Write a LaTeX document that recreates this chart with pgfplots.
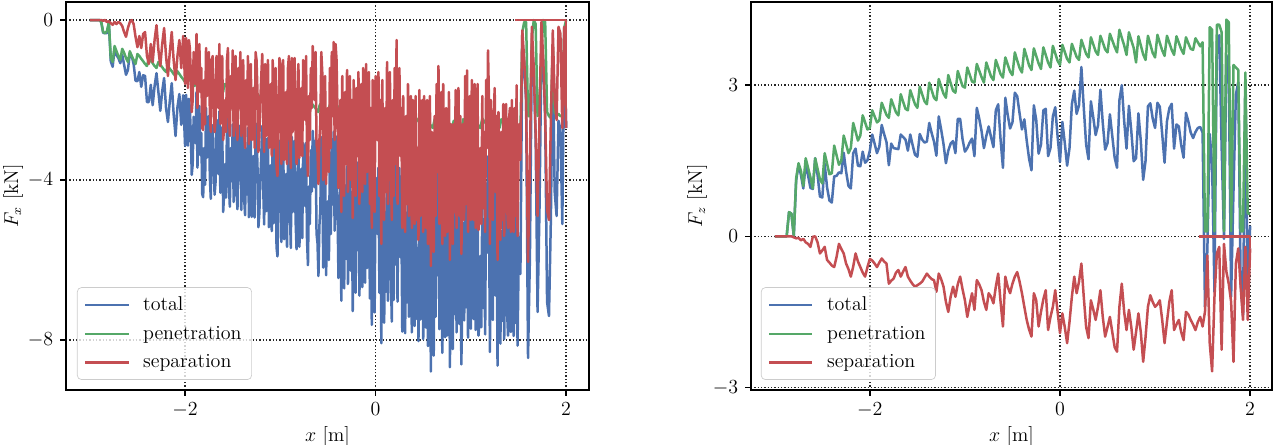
\documentclass[border=0pt,12pt]{standalone}
\usepackage{pgfplots}
\usepackage{pgfplotstable}
\pgfplotsset{compat=1.18}
\definecolor{cblue}{HTML}{4C72B0}
\definecolor{cgreen}{HTML}{55A868}
\definecolor{cred}{HTML}{C44E52}

% left panel: x, total, penetration, separation (F_x)
\pgfplotstableread{
x t g s
-3.00 0 0 0
-2.98 0 0 0
-2.96 0 0 0
-2.94 0 0 0
-2.92 0 0 0
-2.90 0 0 0
-2.88 -0.05 -0.05 0
-2.86 -0.32 -0.30 -0.02
-2.84 -0.33 -0.33 0
-2.82 -0.33 -0.28 -0.05
-2.80 -0.08 -0.05 -0.03
-2.78 -1.03 -0.95 -0.08
-2.76 -1.17 -1.05 -0.12
-2.74 -0.70 -0.65 -0.05
-2.72 -0.88 -0.78 -0.10
-2.70 -0.95 -0.90 -0.05
-2.68 -1.08 -1.00 -0.08
-2.66 -0.87 -0.72 -0.15
-2.64 -1.12 -0.82 -0.30
-2.62 -1.37 -0.95 -0.42
-2.60 -1.25 -1.05 -0.20
-2.58 -0.83 -0.78 -0.05
-2.56 -0.90 -0.90 0
-2.54 -1.10 -1.00 -0.10
-2.52 -1.52 -1.10 -0.42
-2.50 -1.53 -0.85 -0.68
-2.48 -1.30 -0.90 -0.40
-2.46 -1.67 -0.97 -0.70
-2.44 -1.38 -1.03 -0.35
-2.42 -1.40 -1.10 -0.30
-2.40 -2.05 -1.15 -0.90
-2.38 -2.05 -0.95 -1.10
-2.36 -1.62 -1.02 -0.60
-2.34 -2.13 -1.08 -1.05
-2.32 -1.65 -1.15 -0.50
-2.30 -1.33 -1.20 -0.13
-2.28 -1.80 -1.05 -0.75
-2.26 -2.27 -1.12 -1.15
-2.24 -1.78 -1.18 -0.60
-2.22 -1.45 -1.25 -0.20
-2.20 -2.20 -1.30 -0.90
-2.18 -2.55 -1.15 -1.40
-2.16 -2.02 -1.22 -0.80
-2.14 -1.58 -1.28 -0.30
-2.12 -2.35 -1.35 -1.00
-2.10 -2.90 -1.40 -1.50
-2.08 -2.18 -1.28 -0.90
-2.06 -1.85 -1.35 -0.50
-2.04 -2.62 -1.42 -1.20
-2.02 -1.88 -1.48 -0.40
-2.00 -3.15 -1.55 -1.60
-1.99 -1.87 -1.42 -0.45
-1.98 -2.20 -1.40 -0.80
-1.97 -3.14 -1.44 -1.70
-1.96 -1.97 -1.47 -0.50
-1.95 -2.20 -1.50 -0.70
-1.94 -2.83 -1.53 -1.30
-1.93 -3.87 -1.57 -2.30
-1.92 -3.60 -1.60 -2.00
-1.91 -2.42 -1.62 -0.80
-1.90 -2.75 -1.65 -1.10
-1.89 -3.08 -1.48 -1.60
-1.88 -1.80 -1.45 -0.35
-1.87 -3.69 -1.49 -2.20
-1.86 -2.52 -1.52 -1.00
-1.85 -2.15 -1.55 -0.60
-1.84 -3.38 -1.58 -1.80
-1.83 -2.82 -1.62 -1.20
-1.82 -4.35 -1.65 -2.70
-1.81 -4.43 -1.68 -2.75
-1.80 -3.20 -1.70 -1.50
-1.79 -4.12 -1.52 -2.60
-1.78 -2.20 -1.50 -0.70
-1.77 -3.44 -1.54 -1.90
-1.76 -3.17 -1.57 -1.60
-1.75 -2.40 -1.60 -0.80
-1.74 -3.93 -1.63 -2.30
-1.73 -4.47 -1.67 -2.80
-1.72 -2.70 -1.70 -1.00
-1.71 -2.63 -1.73 -0.90
-1.70 -3.65 -1.75 -1.90
-1.69 -4.37 -1.57 -2.80
-1.68 -4.05 -1.55 -2.50
-1.67 -2.49 -1.59 -0.90
-1.66 -2.82 -1.62 -1.20
-1.65 -3.85 -1.65 -2.20
-1.64 -2.28 -1.68 -0.60
-1.63 -4.32 -1.72 -2.60
-1.62 -3.45 -1.75 -1.70
-1.61 -2.68 -1.78 -0.90
-1.60 -4.80 -1.80 -3.00
-1.59 -4.32 -1.62 -2.70
-1.58 -3.60 -1.60 -2.00
-1.57 -4.44 -1.64 -2.80
-1.56 -2.67 -1.67 -1.00
-1.55 -2.40 -1.70 -0.70
-1.54 -4.13 -1.73 -2.40
-1.53 -4.67 -1.77 -2.90
-1.52 -3.20 -1.80 -1.40
-1.51 -4.03 -1.83 -2.20
-1.50 -2.61 -1.85 -0.76
-1.49 -4.55 -1.65 -2.90
-1.48 -3.22 -1.62 -1.60
-1.47 -2.56 -1.66 -0.90
-1.46 -4.30 -1.70 -2.60
-1.45 -4.73 -1.73 -3.00
-1.44 -2.97 -1.77 -1.20
-1.43 -4.00 -1.80 -2.20
-1.42 -2.63 -1.83 -0.80
-1.41 -4.75 -1.85 -2.90
-1.40 -3.88 -1.88 -2.00
-1.39 -2.68 -1.68 -1.00
-1.38 -4.45 -1.65 -2.80
-1.37 -4.88 -1.68 -3.20
-1.36 -3.22 -1.72 -1.50
-1.35 -4.36 -1.76 -2.60
-1.34 -2.70 -1.80 -0.90
-1.33 -4.93 -1.83 -3.10
-1.32 -4.06 -1.86 -2.20
-1.31 -2.99 -1.89 -1.10
-1.30 -4.92 -1.92 -3.00
-1.29 -4.03 -1.73 -2.30
-1.28 -3.40 -1.70 -1.70
-1.27 -4.94 -1.74 -3.20
-1.26 -2.58 -1.78 -0.80
-1.25 -2.81 -1.81 -1.00
-1.24 -3.65 -1.85 -1.80
-1.23 -5.18 -1.88 -3.30
-1.22 -4.82 -1.92 -2.90
-1.21 -3.95 -1.95 -2.00
-1.20 -3.38 -1.98 -1.40
-1.19 -2.65 -1.80 -0.85
-1.18 -4.18 -1.78 -2.40
-1.17 -5.11 -1.81 -3.30
-1.16 -2.95 -1.85 -1.10
-1.15 -4.78 -1.88 -2.90
-1.14 -3.92 -1.92 -2.00
-1.13 -2.95 -1.95 -1.00
-1.12 -5.18 -1.98 -3.20
-1.11 -4.30 -2.00 -2.30
-1.10 -3.63 -2.03 -1.60
-1.09 -5.28 -1.88 -3.40
-1.08 -2.85 -1.85 -1.00
-1.07 -5.08 -1.88 -3.20
-1.06 -4.12 -1.92 -2.20
-1.05 -3.15 -1.95 -1.20
-1.04 -5.68 -1.98 -3.70
-1.03 -5.91 -2.01 -3.90
-1.02 -4.35 -2.05 -2.30
-1.01 -3.02 -2.07 -0.95
-1.00 -3.20 -2.10 -1.10
-0.99 -5.55 -1.95 -3.60
-0.98 -4.32 -1.92 -2.40
-0.97 -2.95 -1.95 -1.00
-0.96 -5.48 -1.98 -3.50
-0.95 -4.91 -2.01 -2.90
-0.94 -3.85 -2.05 -1.80
-0.93 -5.67 -2.07 -3.60
-0.92 -3.30 -2.10 -1.20
-0.91 -3.02 -2.12 -0.90
-0.90 -4.75 -2.15 -2.60
-0.89 -5.70 -2.00 -3.70
-0.88 -2.92 -1.97 -0.95
-0.87 -4.80 -2.00 -2.80
-0.86 -3.54 -2.04 -1.50
-0.85 -3.02 -2.07 -0.95
-0.84 -5.00 -2.10 -2.90
-0.83 -5.73 -2.13 -3.60
-0.82 -4.16 -2.16 -2.00
-0.81 -3.29 -2.19 -1.10
-0.80 -5.67 -2.22 -3.45
-0.79 -4.85 -2.05 -2.80
-0.78 -3.72 -2.02 -1.70
-0.77 -5.45 -2.05 -3.40
-0.76 -3.08 -2.08 -1.00
-0.75 -3.71 -2.11 -1.60
-0.74 -4.65 -2.15 -2.50
-0.73 -3.07 -2.17 -0.90
-0.72 -5.50 -2.20 -3.30
-0.71 -6.13 -2.23 -3.90
-0.70 -4.16 -2.26 -1.90
-0.69 -5.10 -2.10 -3.00
-0.68 -3.26 -2.06 -1.20
-0.67 -4.29 -2.09 -2.20
-0.66 -2.77 -2.12 -0.65
-0.65 -3.35 -2.15 -1.20
-0.64 -4.18 -2.18 -2.00
-0.63 -3.01 -2.21 -0.80
-0.62 -5.34 -2.24 -3.10
-0.61 -5.57 -2.27 -3.30
-0.60 -6.40 -2.30 -4.10
-0.59 -5.15 -2.15 -3.00
-0.58 -4.70 -2.10 -2.60
-0.57 -2.93 -2.13 -0.80
-0.56 -3.46 -2.16 -1.30
-0.55 -6.19 -2.19 -4.00
-0.54 -5.02 -2.22 -2.80
-0.53 -3.65 -2.25 -1.40
-0.52 -6.38 -2.28 -4.10
-0.51 -5.31 -2.31 -3.00
-0.50 -4.53 -2.33 -2.20
-0.49 -6.00 -2.20 -3.80
-0.48 -3.32 -2.12 -1.20
-0.47 -5.35 -2.15 -3.20
-0.46 -2.98 -2.18 -0.80
-0.45 -4.61 -2.21 -2.40
-0.44 -2.79 -2.24 -0.55
-0.43 -5.27 -2.27 -3.00
-0.42 -2.90 -2.30 -0.60
-0.41 -3.33 -2.33 -1.00
-0.40 -4.65 -2.35 -2.30
-0.39 -6.45 -2.25 -4.20
-0.38 -5.75 -2.15 -3.60
-0.37 -4.19 -2.19 -2.00
-0.36 -7.02 -2.22 -4.80
-0.35 -3.65 -2.25 -1.40
-0.34 -5.48 -2.28 -3.20
-0.33 -6.71 -2.31 -4.40
-0.32 -4.14 -2.34 -1.80
-0.31 -5.97 -2.37 -3.60
-0.30 -3.65 -2.40 -1.25
-0.29 -6.60 -2.30 -4.30
-0.28 -4.90 -2.20 -2.70
-0.27 -3.64 -2.24 -1.40
-0.26 -6.27 -2.27 -4.00
-0.25 -4.30 -2.30 -2.00
-0.24 -7.28 -2.33 -4.95
-0.23 -3.86 -2.36 -1.50
-0.22 -5.89 -2.39 -3.50
-0.21 -6.82 -2.42 -4.40
-0.20 -4.15 -2.45 -1.70
-0.19 -5.75 -2.35 -3.40
-0.18 -3.55 -2.25 -1.30
-0.17 -6.89 -2.29 -4.60
-0.16 -5.32 -2.32 -3.00
-0.15 -3.95 -2.35 -1.60
-0.14 -6.68 -2.38 -4.30
-0.13 -3.61 -2.41 -1.20
-0.12 -4.84 -2.44 -2.40
-0.11 -6.57 -2.47 -4.10
-0.10 -3.60 -2.50 -1.10
-0.09 -6.20 -2.40 -3.80
-0.08 -4.90 -2.30 -2.60
-0.07 -3.63 -2.33 -1.30
-0.06 -6.96 -2.36 -4.60
-0.05 -4.59 -2.39 -2.20
-0.04 -7.62 -2.42 -5.20
-0.03 -3.95 -2.45 -1.50
-0.02 -5.78 -2.48 -3.30
-0.01 -7.31 -2.51 -4.80
0.00 -3.94 -2.54 -1.40
0.01 -4.05 -2.45 -1.60
0.02 -5.35 -2.35 -3.00
0.03 -3.69 -2.39 -1.30
0.04 -6.82 -2.42 -4.40
0.05 -4.45 -2.45 -2.00
0.06 -8.08 -2.48 -5.60
0.07 -4.01 -2.51 -1.50
0.08 -6.44 -2.54 -3.90
0.09 -7.57 -2.57 -5.00
0.10 -4.80 -2.60 -2.20
0.11 -6.79 -2.49 -4.30
0.12 -3.43 -2.38 -1.05
0.13 -7.02 -2.42 -4.60
0.14 -4.95 -2.45 -2.50
0.15 -3.78 -2.48 -1.30
0.16 -6.31 -2.51 -3.80
0.17 -7.54 -2.54 -5.00
0.18 -4.57 -2.57 -2.00
0.19 -7.00 -2.60 -4.40
0.20 -3.82 -2.62 -1.20
0.21 -6.11 -2.51 -3.60
0.22 -2.90 -2.40 -0.50
0.23 -7.04 -2.44 -4.60
0.24 -4.07 -2.47 -1.60
0.25 -3.70 -2.50 -1.20
0.26 -5.93 -2.53 -3.40
0.27 -4.76 -2.56 -2.20
0.28 -7.79 -2.59 -5.20
0.29 -4.52 -2.62 -1.90
0.30 -6.44 -2.64 -3.80
0.31 -7.83 -2.53 -5.30
0.32 -4.82 -2.42 -2.40
0.33 -7.06 -2.46 -4.60
0.34 -4.09 -2.49 -1.60
0.35 -7.42 -2.52 -4.90
0.36 -5.45 -2.55 -2.90
0.37 -4.48 -2.58 -1.90
0.38 -7.81 -2.61 -5.20
0.39 -4.64 -2.64 -2.00
0.40 -6.66 -2.66 -4.00
0.41 -7.65 -2.55 -5.10
0.42 -4.34 -2.44 -1.90
0.43 -7.47 -2.47 -5.00
0.44 -5.70 -2.50 -3.20
0.45 -8.03 -2.53 -5.50
0.46 -4.31 -2.56 -1.75
0.47 -7.49 -2.59 -4.90
0.48 -6.22 -2.62 -3.60
0.49 -4.65 -2.65 -2.00
0.50 -7.98 -2.68 -5.30
0.51 -4.47 -2.57 -1.90
0.52 -6.05 -2.45 -3.60
0.53 -7.69 -2.49 -5.20
0.54 -4.52 -2.52 -2.00
0.55 -8.15 -2.55 -5.60
0.56 -7.08 -2.58 -4.50
0.57 -4.51 -2.61 -1.90
0.58 -8.79 -2.64 -6.15
0.59 -5.47 -2.67 -2.80
0.60 -6.90 -2.70 -4.20
0.61 -8.39 -2.59 -5.80
0.62 -4.88 -2.48 -2.40
0.63 -7.42 -2.52 -4.90
0.64 -4.15 -2.55 -1.60
0.65 -6.38 -2.58 -3.80
0.66 -3.75 -2.60 -1.15
0.67 -7.73 -2.63 -5.10
0.68 -5.96 -2.66 -3.30
0.69 -4.49 -2.69 -1.80
0.70 -8.32 -2.72 -5.60
0.71 -4.21 -2.61 -1.60
0.72 -6.50 -2.50 -4.00
0.73 -7.93 -2.53 -5.40
0.74 -4.76 -2.56 -2.20
0.75 -7.89 -2.59 -5.30
0.76 -6.42 -2.62 -3.80
0.77 -4.45 -2.65 -1.80
0.78 -8.68 -2.68 -6.00
0.79 -5.31 -2.71 -2.60
0.80 -7.24 -2.74 -4.50
0.81 -8.23 -2.63 -5.60
0.82 -5.12 -2.52 -2.60
0.83 -7.35 -2.55 -4.80
0.84 -4.33 -2.58 -1.75
0.85 -7.81 -2.61 -5.20
0.86 -5.84 -2.64 -3.20
0.87 -4.37 -2.67 -1.70
0.88 -7.60 -2.70 -4.90
0.89 -5.13 -2.73 -2.40
0.90 -8.61 -2.76 -5.85
0.91 -7.02 -2.62 -4.40
0.92 -5.08 -2.48 -2.60
0.93 -7.51 -2.51 -5.00
0.94 -3.95 -2.55 -1.40
0.95 -7.18 -2.58 -4.60
0.96 -3.87 -2.61 -1.26
0.97 -7.94 -2.64 -5.30
0.98 -6.17 -2.67 -3.50
0.99 -4.60 -2.70 -1.90
1.00 -7.72 -2.72 -5.00
1.01 -4.08 -2.58 -1.50
1.02 -5.45 -2.45 -3.00
1.03 -7.48 -2.48 -5.00
1.04 -4.12 -2.52 -1.60
1.05 -7.75 -2.55 -5.20
1.06 -6.38 -2.58 -3.80
1.07 -4.21 -2.61 -1.60
1.08 -7.89 -2.64 -5.25
1.09 -7.57 -2.67 -4.90
1.10 -5.90 -2.70 -3.20
1.11 -7.68 -2.58 -5.10
1.12 -4.36 -2.46 -1.90
1.13 -7.20 -2.50 -4.70
1.14 -5.33 -2.53 -2.80
1.15 -7.86 -2.56 -5.30
1.16 -4.09 -2.59 -1.50
1.17 -5.82 -2.62 -3.20
1.18 -3.41 -2.65 -0.76
1.19 -4.68 -2.68 -2.00
1.20 -8.30 -2.70 -5.60
1.21 -4.58 -2.58 -2.00
1.22 -6.36 -2.46 -3.90
1.23 -7.50 -2.50 -5.00
1.24 -4.93 -2.53 -2.40
1.25 -4.26 -2.56 -1.70
1.26 -6.89 -2.59 -4.30
1.27 -5.02 -2.62 -2.40
1.28 -8.64 -2.64 -6.00
1.29 -4.97 -2.67 -2.30
1.30 -6.70 -2.70 -4.00
1.31 -8.09 -2.59 -5.50
1.32 -5.28 -2.48 -2.80
1.33 -7.52 -2.52 -5.00
1.34 -4.65 -2.55 -2.10
1.35 -7.98 -2.58 -5.40
1.36 -6.10 -2.60 -3.50
1.37 -4.73 -2.63 -2.10
1.38 -7.26 -2.66 -4.60
1.39 -7.89 -2.69 -5.20
1.40 -5.22 -2.72 -2.50
1.41 -4.81 -2.61 -2.20
1.42 -7.80 -2.50 -5.30
1.43 -4.54 -2.54 -2.00
1.44 -6.57 -2.57 -4.00
1.45 -7.90 -2.60 -5.30
1.46 -4.83 -2.63 -2.20
1.47 -7.57 -2.67 -4.90
1.48 -4.33 -2.70 -1.63
1.49 -8.14 -2.74 -5.40
1.50 -6.28 -2.78 -3.50
1.51 -5.42 -2.82 -2.60
1.52 -6.35 -2.85 -3.50
1.54 -0.56 -0.30 -0.26
1.56 -1.05 -0.05 -1.00
1.58 -2.05 -0.05 -2.00
1.60 -8.45 -2.40 -6.05
1.62 -5.90 -2.40 -3.50
1.64 -0.67 -0.50 -0.17
1.66 -1.20 0 -1.20
1.68 -2.95 -0.10 -2.85
1.70 -7.30 -2.40 -4.90
1.72 -4.80 -2.30 -2.50
1.74 -0.85 -0.80 -0.05
1.76 -1.00 0 -1.00
1.78 -2.45 -0.05 -2.40
1.80 -7.05 -2.30 -4.75
1.82 -7.40 -2.40 -5.00
1.84 -4.95 -2.45 -2.50
1.86 -0.86 -0.60 -0.26
1.88 -4.30 -2.30 -2.00
1.90 -4.90 -2.40 -2.50
1.92 -2.52 -2.35 -0.17
1.94 -2.74 -2.40 -0.34
1.96 -5.10 -2.40 -2.70
1.98 -0.37 -0.20 -0.17
2.00 -2.70 0 -2.70
}\lefttab

% right panel: x, total, penetration, separation (F_z)
\pgfplotstableread{
x t g s
-3.000 0 0 0
-2.975 0 0 0
-2.950 0 0 0
-2.925 0 0 0
-2.900 0 0 0
-2.875 0 0 0
-2.850 0.48 0.48 0
-2.825 0.45 0.45 0
-2.800 0.00 0.02 -0.02
-2.775 1.11 1.15 -0.04
-2.750 1.42 1.45 -0.03
-2.725 1.22 1.30 -0.08
-2.700 0.95 1.00 -0.05
-2.675 1.43 1.55 -0.12
-2.650 1.21 1.36 -0.15
-2.625 0.96 1.17 -0.21
-2.600 0.94 0.95 -0.01
-2.575 1.55 1.55 0.00
-2.550 1.22 1.34 -0.12
-2.525 0.79 1.13 -0.34
-2.500 0.77 1.05 -0.28
-2.475 1.44 1.65 -0.21
-2.450 0.97 1.44 -0.47
-2.425 0.71 1.23 -0.52
-2.400 0.67 1.25 -0.58
-2.375 1.19 1.80 -0.61
-2.350 1.20 1.61 -0.41
-2.325 1.27 1.42 -0.15
-2.300 1.25 1.50 -0.25
-2.275 1.66 2.00 -0.34
-2.250 1.29 1.83 -0.54
-2.225 1.00 1.65 -0.65
-2.200 0.95 1.75 -0.80
-2.175 1.65 2.25 -0.60
-2.150 1.74 2.08 -0.34
-2.125 1.40 1.90 -0.50
-2.100 1.39 2.00 -0.61
-2.075 1.68 2.40 -0.72
-2.050 1.46 2.26 -0.80
-2.025 1.51 2.12 -0.61
-2.000 1.70 2.15 -0.45
-1.975 2.02 2.50 -0.48
-1.950 1.84 2.38 -0.54
-1.925 1.65 2.26 -0.61
-1.900 1.78 2.30 -0.52
-1.875 2.21 2.65 -0.44
-1.850 2.03 2.53 -0.50
-1.825 1.87 2.41 -0.54
-1.800 1.41 2.35 -0.94
-1.775 1.84 2.72 -0.88
-1.750 1.75 2.59 -0.84
-1.725 1.74 2.46 -0.72
-1.700 1.73 2.40 -0.67
-1.675 2.02 2.82 -0.80
-1.650 1.97 2.67 -0.70
-1.625 1.92 2.53 -0.61
-1.600 1.70 2.50 -0.80
-1.575 2.02 2.90 -0.88
-1.550 1.81 2.76 -0.95
-1.525 1.62 2.62 -1.00
-1.500 1.58 2.55 -0.97
-1.475 2.03 2.97 -0.94
-1.450 1.92 2.82 -0.90
-1.425 1.86 2.68 -0.82
-1.400 1.88 2.62 -0.74
-1.375 2.25 3.05 -0.80
-1.350 2.05 2.90 -0.85
-1.325 1.88 2.75 -0.87
-1.300 1.60 2.70 -1.10
-1.275 2.38 3.12 -0.74
-1.250 2.12 2.97 -0.85
-1.225 1.83 2.83 -1.00
-1.200 1.45 2.75 -1.30
-1.175 1.70 3.20 -1.50
-1.150 1.84 3.04 -1.20
-1.125 1.89 2.89 -1.00
-1.100 1.65 2.85 -1.20
-1.075 2.33 3.28 -0.95
-1.050 2.33 3.13 -0.80
-1.025 1.93 2.98 -1.05
-1.000 1.68 2.95 -1.27
-0.975 1.75 3.35 -1.60
-0.950 1.86 3.21 -1.35
-0.925 1.94 3.07 -1.13
-0.900 1.59 3.05 -1.46
-0.875 2.55 3.42 -0.87
-0.850 2.34 3.29 -0.95
-0.825 2.09 3.16 -1.07
-0.800 1.75 3.05 -1.30
-0.775 1.99 3.45 -1.46
-0.750 2.18 3.31 -1.13
-0.725 1.97 3.17 -1.20
-0.700 1.77 3.10 -1.33
-0.675 2.50 3.50 -1.00
-0.650 2.62 3.36 -0.74
-0.625 1.92 3.22 -1.30
-0.600 1.36 3.15 -1.79
-0.575 2.75 3.55 -0.80
-0.550 2.41 3.41 -1.00
-0.525 2.14 3.27 -1.13
-0.500 2.26 3.20 -0.94
-0.475 2.85 3.65 -0.80
-0.450 2.78 3.49 -0.71
-0.425 2.44 3.34 -0.90
-0.400 2.12 3.25 -1.13
-0.375 2.32 3.72 -1.40
-0.350 1.90 3.56 -1.66
-0.325 1.54 3.39 -1.85
-0.300 1.31 3.30 -1.99
-0.275 2.60 3.73 -1.13
-0.250 2.31 3.58 -1.27
-0.225 1.64 3.43 -1.79
-0.200 1.82 3.32 -1.50
-0.175 2.50 3.75 -1.25
-0.150 2.53 3.60 -1.07
-0.125 1.59 3.45 -1.86
-0.100 1.75 3.35 -1.60
-0.075 2.38 3.78 -1.40
-0.050 2.56 3.63 -1.07
-0.025 1.98 3.48 -1.50
0.000 1.48 3.40 -1.92
0.025 2.27 3.80 -1.53
0.050 1.86 3.66 -1.80
0.075 1.40 3.52 -2.12
0.100 1.75 3.45 -1.70
0.125 2.62 3.82 -1.20
0.150 2.89 3.69 -0.80
0.175 2.43 3.56 -1.13
0.200 2.60 3.50 -0.90
0.225 3.36 3.90 -0.54
0.250 2.56 3.76 -1.20
0.275 1.82 3.62 -1.80
0.300 1.53 3.55 -2.02
0.325 2.68 3.95 -1.27
0.350 2.36 3.81 -1.45
0.375 2.01 3.67 -1.66
0.400 2.20 3.60 -1.40
0.425 2.91 3.98 -1.07
0.450 2.25 3.85 -1.60
0.475 1.72 3.71 -1.99
0.500 1.85 3.65 -1.80
0.525 2.42 4.02 -1.60
0.550 1.99 3.89 -1.90
0.575 1.56 3.76 -2.20
0.600 1.36 3.65 -2.29
0.625 2.70 4.10 -1.40
0.650 3.00 3.94 -0.94
0.675 2.29 3.79 -1.50
0.700 1.74 3.60 -1.86
0.725 2.59 4.05 -1.46
0.750 2.09 3.89 -1.80
0.775 1.49 3.74 -2.25
0.800 1.55 3.45 -1.90
0.825 2.44 3.97 -1.53
0.850 1.89 3.79 -1.90
0.875 1.12 3.61 -2.49
0.900 1.50 3.50 -2.00
0.925 2.58 3.98 -1.40
0.950 2.64 3.81 -1.17
0.975 2.34 3.64 -1.30
1.000 2.15 3.55 -1.40
1.025 2.65 4.00 -1.35
1.050 2.57 3.84 -1.27
1.075 2.03 3.69 -1.66
1.100 1.46 3.58 -2.12
1.125 2.28 3.98 -1.70
1.150 2.54 3.84 -1.30
1.175 2.63 3.70 -1.07
1.200 1.74 3.60 -1.86
1.225 2.22 3.97 -1.75
1.250 2.18 3.84 -1.66
1.275 1.81 3.71 -1.90
1.300 1.56 3.62 -2.06
1.325 2.45 3.95 -1.50
1.350 2.28 3.83 -1.55
1.375 2.06 3.72 -1.66
1.400 1.95 3.70 -1.75
1.425 2.07 3.93 -1.86
1.450 2.15 3.85 -1.70
1.475 2.17 3.77 -1.60
1.500 2.06 3.85 -1.79
1.525 -1.40 0.10 -1.50
1.550 -0.28 0.10 -0.38
1.575 2.03 4.15 -2.12
1.600 1.42 4.10 -2.68
1.625 -1.10 0.10 -1.20
1.650 3.86 4.20 -0.34
1.675 3.99 4.20 -0.21
1.700 1.80 4.05 -2.25
1.725 -0.05 0.10 -0.15
1.750 3.60 4.30 -0.70
1.775 3.31 4.25 -0.94
1.800 -1.20 0.10 -1.30
1.825 0.91 3.40 -2.49
1.850 2.81 3.35 -0.54
1.875 3.06 3.30 -0.24
1.900 -0.90 0.10 -1.00
1.925 -1.56 0.10 -1.66
1.950 3.04 3.25 -0.21
1.975 -1.21 0.45 -1.66
2.000 0.21 0.45 -0.24
}\righttab

\pgfplotsset{
  panel/.style={
    scale only axis,
    height=232.8pt,
    xmin=-3.25,
    xtick={-2,0,2},
    tick align=outside,
    tick pos=left,
    major tick length=3.5pt,
    every tick/.style={black, line width=0.8pt},
    axis line style={black, line width=1pt},
    grid=major,
    major grid style={black!85, line width=0.8pt, dash pattern=on 0.8pt off 1.2pt},
    xlabel={$x$ [m]},
    xlabel style={at={(axis description cs:0.5,-0.121)}, anchor=center},
    legend cell align=left,
    legend style={anchor=south west, draw=black!20, rounded corners=2.5pt,
      fill=white, fill opacity=0.8, text opacity=1,
      inner xsep=4pt, inner ysep=3.5pt, row sep=3.4pt,
      font=\fontsize{12}{14}\selectfont},
    legend image code/.code={\draw[#1] (0pt,0pt) -- (26pt,0pt); \path (32pt,0pt);},
    every axis plot/.append style={line width=1.5pt, line join=round, mark=none},
  },
}

\begin{document}
\fontsize{12}{14.4}\selectfont
\begin{tikzpicture}
\begin{axis}[panel,
  at={(0pt,0pt)}, anchor=south west,
  width=313.8pt,
  xmax=2.24,
  ymin=-9.25, ymax=0.45,
  ytick={-8,-4,0},
  ylabel={$F_x$ [kN]},
  ylabel style={at={(axis description cs:-0.1013,0.5)}, anchor=center},
  legend style={at={(axis description cs:0.021,0.026)}},
]
\addplot[cblue] table[x=x,y=t] {\lefttab};
\addlegendentry{total}
\addplot[cgreen] table[x=x,y=g] {\lefttab};
\addlegendentry{penetration}
\addplot[cred] table[x=x,y=s] {\lefttab};
\addlegendentry{separation}
\addplot[cred, forget plot] coordinates {(2.0,-2.7) (2.0,0) (1.46,0)};
\end{axis}

\begin{axis}[panel,
  at={(411pt,0pt)}, anchor=south west,
  width=312.6pt,
  xmax=2.23,
  ymin=-3.05, ymax=4.65,
  ytick={-3,0,3},
  ylabel={$F_z$ [kN]},
  ylabel style={at={(axis description cs:-0.1036,0.5)}, anchor=center},
  legend style={at={(axis description cs:0.019,0.026)}},
]
\addplot[cblue] table[x=x,y=t] {\righttab};
\addlegendentry{total}
\addplot[cgreen] table[x=x,y=g] {\righttab};
\addlegendentry{penetration}
\addplot[cred] table[x=x,y=s] {\righttab};
\addlegendentry{separation}
\addplot[cred, forget plot] coordinates {(2.0,-0.24) (2.0,0) (1.457,0)};
\end{axis}

\pgfresetboundingbox
\path[use as bounding box] (-39.6pt,-33pt) rectangle (724.2pt,234pt);
\end{tikzpicture}
\end{document}
